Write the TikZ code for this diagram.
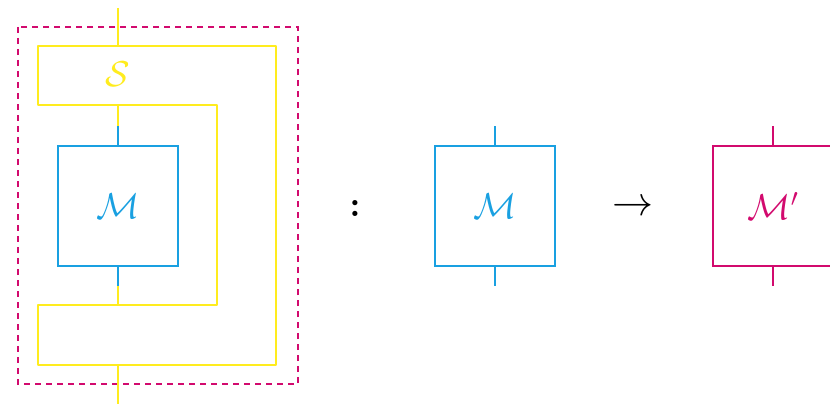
\documentclass[tikz,border=0pt]{standalone}
\usepackage{fix-cm}
\usepackage{amsmath}
\definecolor{combY}{RGB}{255,236,30}
\definecolor{boxB}{RGB}{25,160,225}
\definecolor{boxM}{RGB}{210,10,110}
\tikzset{
  lbl/.style={font=\fontsize{36}{40}\selectfont},
  biglbl/.style={font=\fontsize{41}{44}\selectfont},
  mbox/.style={draw=boxB, line width=2pt, minimum width=120pt, minimum height=120pt, inner sep=0pt, text=boxB, lbl},
  mpbox/.style={draw=boxM, line width=2pt, minimum width=120pt, minimum height=120pt, inner sep=0pt, text=boxM, lbl},
  bwire/.style={draw=boxB, line width=2pt},
  mwire/.style={draw=boxM, line width=2pt},
  ywire/.style={draw=combY, line width=2pt},
}
\begin{document}
\begin{tikzpicture}[x=1pt, y=-1pt]
\useasboundingbox (0,0) rectangle (830,404);
% dashed frame around the composed comb
\draw[boxM, line width=2pt, dash pattern=on 6pt off 5pt] (18,27) rectangle (298,384);
% comb S
\draw[ywire, line join=round] (38,46) -- (276,46) -- (276,365) -- (38,365) -- (38,305)
  -- (217,305) -- (217,105) -- (38,105) -- cycle;
\node[lbl, text=combY] (S) at (118,74) {$\mathcal{S}$};
% inner M
\node[mbox] (M1) at (118,206) {$\mathcal{M}$};
\coordinate (m1t) at (118,126);
\coordinate (m1b) at (118,286);
\coordinate (st) at (118,105);
\coordinate (sb) at (118,305);
\coordinate (in) at (118,8);
\coordinate (intop) at (118,46);
\coordinate (out) at (118,404);
\coordinate (outb) at (118,365);
\draw[ywire] (in) -- (intop);
\draw[ywire] (st) -- (m1t);
\draw[bwire] (m1t) -- (M1.north);
\draw[bwire] (M1.south) -- (m1b);
\draw[ywire] (m1b) -- (sb);
\draw[ywire] (outb) -- (out);
% colon
\node[lbl] (colon) at (355,208) {$\boldsymbol{:}$};
% M
\node[mbox] (M2) at (495,206) {$\mathcal{M}$};
\coordinate (m2t) at (495,126);
\coordinate (m2b) at (495,286);
\draw[bwire] (m2t) -- (M2.north);
\draw[bwire] (M2.south) -- (m2b);
% arrow
\node[biglbl] (arr) at (633,208) {$\to$};
% M'
\node[mpbox] (M3) at (773,206) {$\mathcal{M}'$};
\coordinate (m3t) at (773,126);
\coordinate (m3b) at (773,286);
\draw[mwire] (m3t) -- (M3.north);
\draw[mwire] (M3.south) -- (m3b);
\end{tikzpicture}
\end{document}
